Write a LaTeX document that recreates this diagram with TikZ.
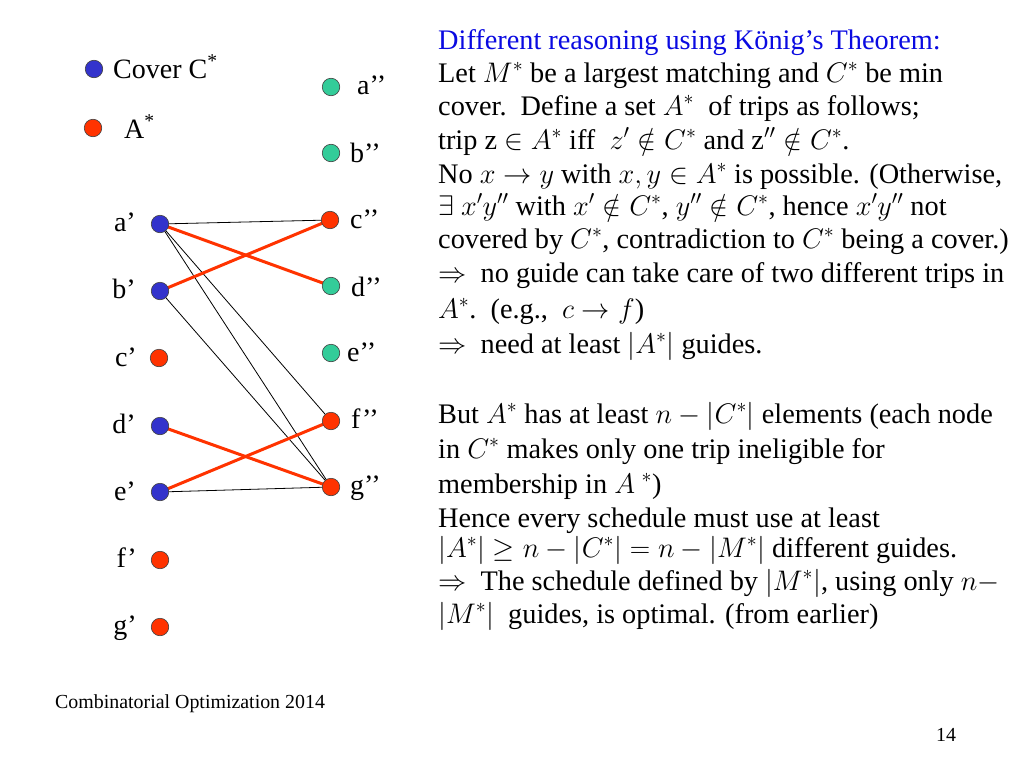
\RequirePackage{fix-cm}
\documentclass[tikz,border=0pt]{standalone}
\usepackage{fontspec}
\setmainfont{Liberation Serif}
\usetikzlibrary{backgrounds}
\definecolor{cblue}{RGB}{51,51,204}
\definecolor{cred}{RGB}{255,51,0}
\definecolor{cteal}{RGB}{51,204,153}
\definecolor{tblue}{RGB}{10,10,225}
\tikzset{
  dot/.style={circle, minimum size=17.5pt, inner sep=0pt, draw=black!75, line width=0.6pt},
  bdot/.style={dot, fill=cblue},
  rdot/.style={dot, fill=cred},
  tdot/.style={dot, fill=cteal},
  lblL/.style={font=\fontsize{28}{32}\selectfont, anchor=base east, inner sep=0pt, text height=19pt, text depth=6pt},
  lblR/.style={font=\fontsize{28}{32}\selectfont, anchor=base west, inner sep=0pt, text height=19pt, text depth=6pt},
  txt/.style={font=\fontsize{28.3}{32}\selectfont, anchor=base west, inner sep=0pt, text height=20pt, text depth=6pt},
  thinedge/.style={black, line width=0.8pt},
  matchedge/.style={cred, line width=3pt},
  foot/.style={font=\fontsize{19.9}{22}\selectfont, anchor=base west, inner sep=0pt}
}
\begin{document}
\begin{tikzpicture}[x=1pt,y=-1pt]
\useasboundingbox (0,0) rectangle (1024,768);
% legend
\node[bdot] (lgc) at (94,69) {};
\node[lblR] (lgct) at (113,78) {Cover C\textsuperscript{*}};
\node[rdot] (lga) at (93,128) {};
\node[lblR] (lgat) at (124,138) {A\textsuperscript{*}};
% left column
\node[bdot] (a1) at (160,224) {};
\node[bdot] (b1) at (160,291) {};
\node[rdot] (c1) at (159,358) {};
\node[bdot] (d1) at (160,426) {};
\node[bdot] (e1) at (160,492) {};
\node[rdot] (f1) at (160,560) {};
\node[rdot] (g1) at (160,627) {};
\node[lblL] (a1l) at (136,231) {a’};
\node[lblL] (b1l) at (136,298) {b’};
\node[lblL] (c1l) at (137,366) {c’};
\node[lblL] (d1l) at (136,433) {d’};
\node[lblL] (e1l) at (136,500) {e’};
\node[lblL] (f1l) at (137,567) {f’};
\node[lblL] (g1l) at (137,634) {g’};
% right column
\node[tdot] (a2) at (331,87) {};
\node[tdot] (b2) at (331,153) {};
\node[rdot] (c2) at (330,220) {};
\node[tdot] (d2) at (331,286) {};
\node[tdot] (e2) at (331,353) {};
\node[rdot] (f2) at (331,421) {};
\node[rdot] (g2) at (331,487) {};
\node[lblR] (a2l) at (357,94) {a’’};
\node[lblR] (b2l) at (350,162) {b’’};
\node[lblR] (c2l) at (350,228) {c’’};
\node[lblR] (d2l) at (351,296) {d’’};
\node[lblR] (e2l) at (347,361) {e’’};
\node[lblR] (f2l) at (351,428) {f’’};
\node[lblR] (g2l) at (350,494) {g’’};
% edges
\begin{scope}[on background layer]
\draw[thinedge] (a1.center) -- (c2.center);
\draw[thinedge] (a1.center) -- (f2.center);
\draw[thinedge] (a1.center) -- (g2.center);
\draw[thinedge] (b1.center) -- (g2.center);
\draw[thinedge] (e1.center) -- (g2.center);
\draw[matchedge] (a1.center) -- (d2.center);
\draw[matchedge] (b1.center) -- (c2.center);
\draw[matchedge] (d1.center) -- (g2.center);
\draw[matchedge] (e1.center) -- (f2.center);
\end{scope}
% text
\node[txt, text=tblue] (t1) at (438,49) {Different reasoning using König’s Theorem:};
\node[txt] (t2) at (438,82) {Let $M^*$ be a largest matching and $C^*$ be min};
\node[txt] (t3) at (438,115) {cover.\ \ Define a set $A^*$\ \ of trips as follows;};
\node[txt] (t4) at (438,149) {trip z $\in A^*$ iff\ \ $z'\notin C^*$ and z$''\notin C^*$.};
\node[txt] (t5) at (438,183) {No $x\rightarrow y$ with $x,y\in A^*$ is possible. (Otherwise,};
\node[txt] (t6) at (438,215) {$\exists\ x'y''$ with $x'\notin C^*$, $y''\notin C^*$, hence $x'y''$ not};
\node[txt] (t7) at (438,248) {covered by $C^*$, contradiction to $C^*$ being a cover.)};
\node[txt] (t8) at (438,282) {$\Rightarrow$\ \ no guide can take care of two different trips in};
\node[txt] (t9) at (438,318) {$A^*$.\ \ (e.g.,\ \ $c\rightarrow f$)};
\node[txt] (t10) at (438,353) {$\Rightarrow$\ \ need at least $|A^*|$ guides.};
\node[txt] (t11) at (438,423) {But $A^*$ has at least $n-|C^*|$ elements (each node};
\node[txt] (t12) at (438,458) {in $C^*$ makes only one trip ineligible for};
\node[txt] (t13) at (438,493) {membership in $A^{\,\,*}$)};
\node[txt] (t14) at (438,527) {Hence every schedule must use at least};
\node[txt] (t15) at (438,557) {$|A^*|\geq n-|C^*|=n-|M^*|$ different guides.};
\node[txt] (t16) at (438,590) {$\Rightarrow$\ \ The schedule defined by $|M^*|$, using only $n-$};
\node[txt] (t17) at (438,623) {$|M^*|$\ \ guides, is optimal. (from earlier)};
% footer
\node[foot] (ft) at (55,708) {Combinatorial Optimization 2014};
\node[foot] (pg) at (936,741) {14};
\end{tikzpicture}
\end{document}
